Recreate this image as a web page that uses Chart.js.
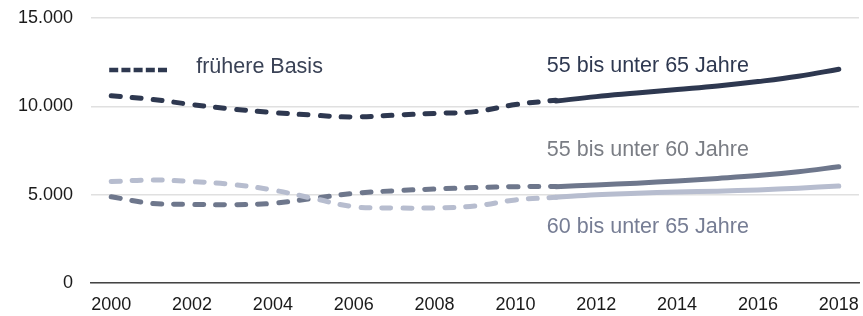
<!DOCTYPE html>
<html>
<head>
<meta charset="utf-8">
<script src="https://cdn.jsdelivr.net/npm/chart.js@4/dist/chart.umd.min.js"></script>
<style>
  html, body { margin: 0; padding: 0; background: #fff; }
  #wrap { width: 863px; height: 316px; position: relative; }
</style>
</head>
<body>
<div id="wrap"><canvas id="chart"></canvas></div>
<script>
// Years on the x axis
const years = ['2000','2001','2002','2003','2004','2005','2006','2007','2008','2009',
               '2010','2011','2012','2013','2014','2015','2016','2017','2018'];

// frühere Basis (2000-2011), dashed
const old5565 = [10600, 10400, 10100, 9850, 9650, 9500, 9400, 9500, 9600, 9700, 10100, 10350];
const old5560 = [4880, 4510, 4450, 4430, 4510, 4790, 5070, 5220, 5320, 5400, 5450, 5460];
const old6065 = [5740, 5830, 5740, 5580, 5260, 4790, 4320, 4250, 4250, 4360, 4700, 4850];

// new basis (2011-2018), solid
const new5565 = [10300, 10550, 10750, 10950, 11150, 11400, 11700, 12100];
const new5560 = [5450, 5550, 5650, 5780, 5920, 6080, 6300, 6580];
const new6065 = [4850, 5000, 5080, 5150, 5200, 5270, 5370, 5490];

const yTicks = [0, 5000, 10000, 15000];

const colors = { dark: '#2e3850', mid: '#6e778c', light: '#b7bdcf' };

// pad series to the full year range
function early(arr) { return years.map((y, i) => i < arr.length ? arr[i] : null); }
function late(arr) { const start = years.length - arr.length; return years.map((y, i) => i >= start ? arr[i - start] : null); }

function dashed(data, color) {
  return { data: early(data), borderColor: color, borderWidth: 5, borderDash: [9, 12],
           borderCapStyle: 'round', pointRadius: 0, tension: 0.4, spanGaps: false, fill: false };
}
function solid(data, color) {
  return { data: late(data), borderColor: color, borderWidth: 5,
           borderCapStyle: 'round', pointRadius: 0, tension: 0.4, spanGaps: false, fill: false };
}

// text labels, anchored on the scales
const notes = [
  { text: '55 bis unter 65 Jahre', year: '2011', value: 12280, color: '#2e3850' },
  { text: '55 bis unter 60 Jahre', year: '2011', value: 7530, color: '#7a7d84' },
  { text: '60 bis unter 65 Jahre', year: '2011', value: 3160, color: '#767d94' }
];

const labelPlugin = {
  id: 'labels',
  afterDatasetsDraw(chart) {
    const { ctx, scales: { x, y } } = chart;
    ctx.save();
    ctx.font = '21.5px "Liberation Sans", Arial, sans-serif';
    ctx.textBaseline = 'middle';
    ctx.textAlign = 'left';
    notes.forEach(n => {
      ctx.fillStyle = n.color;
      ctx.fillText(n.text, x.getPixelForValue(n.year) - 9, y.getPixelForValue(n.value));
    });
    // legend for frühere Basis
    const ly = y.getPixelForValue(12050);
    const lx = x.getPixelForValue('2000') - 2;
    ctx.strokeStyle = colors.dark;
    ctx.lineWidth = 4.5;
    ctx.setLineDash([9, 3.2]);
    ctx.beginPath();
    ctx.moveTo(lx, ly);
    ctx.lineTo(lx + 61, ly);
    ctx.stroke();
    ctx.setLineDash([]);
    ctx.fillStyle = '#3a4256';
    ctx.fillText('frühere Basis', lx + 87, ly - 3);
    ctx.restore();
  }
};

new Chart(document.getElementById('chart'), {
  type: 'line',
  data: {
    labels: years,
    datasets: [
      dashed(old6065, colors.light),
      dashed(old5560, colors.mid),
      dashed(old5565, colors.dark),
      solid(new6065, colors.light),
      solid(new5560, colors.mid),
      solid(new5565, colors.dark)
    ]
  },
  options: {
    responsive: true,
    maintainAspectRatio: false,
    animation: false,
    layout: { padding: { top: 18, right: 4, left: 0, bottom: 0 } },
    plugins: { legend: { display: false }, tooltip: { enabled: false } },
    scales: {
      x: {
        type: 'category',
        offset: true,
        grid: { display: false, drawTicks: false },
        border: { display: true, color: '#444', width: 1.5 },
        ticks: {
          autoSkip: false, maxRotation: 0, padding: 11, color: '#1a1a1a',
          font: { size: 18, family: '"Liberation Sans", Arial, sans-serif' },
          callback: (v, i) => (+years[i]) % 2 === 0 ? years[i] : ''
        },
        afterFit: s => { s.height = 33; s.paddingLeft = 0; s.paddingRight = 0; }
      },
      y: {
        min: 0, max: 15000,
        afterBuildTicks: s => { s.ticks = yTicks.map(v => ({ value: v })); },
        grid: { color: '#e0e0e0', lineWidth: 1.5, drawTicks: false },
        border: { display: false },
        ticks: {
          padding: 18, color: '#1a1a1a',
          font: { size: 18, family: '"Liberation Sans", Arial, sans-serif' },
          callback: v => v.toLocaleString('de-DE')
        },
        afterFit: s => { s.width = 91; s.paddingTop = 0; s.paddingBottom = 0; }
      }
    }
  },
  plugins: [labelPlugin]
});
</script>
</body>
</html>
